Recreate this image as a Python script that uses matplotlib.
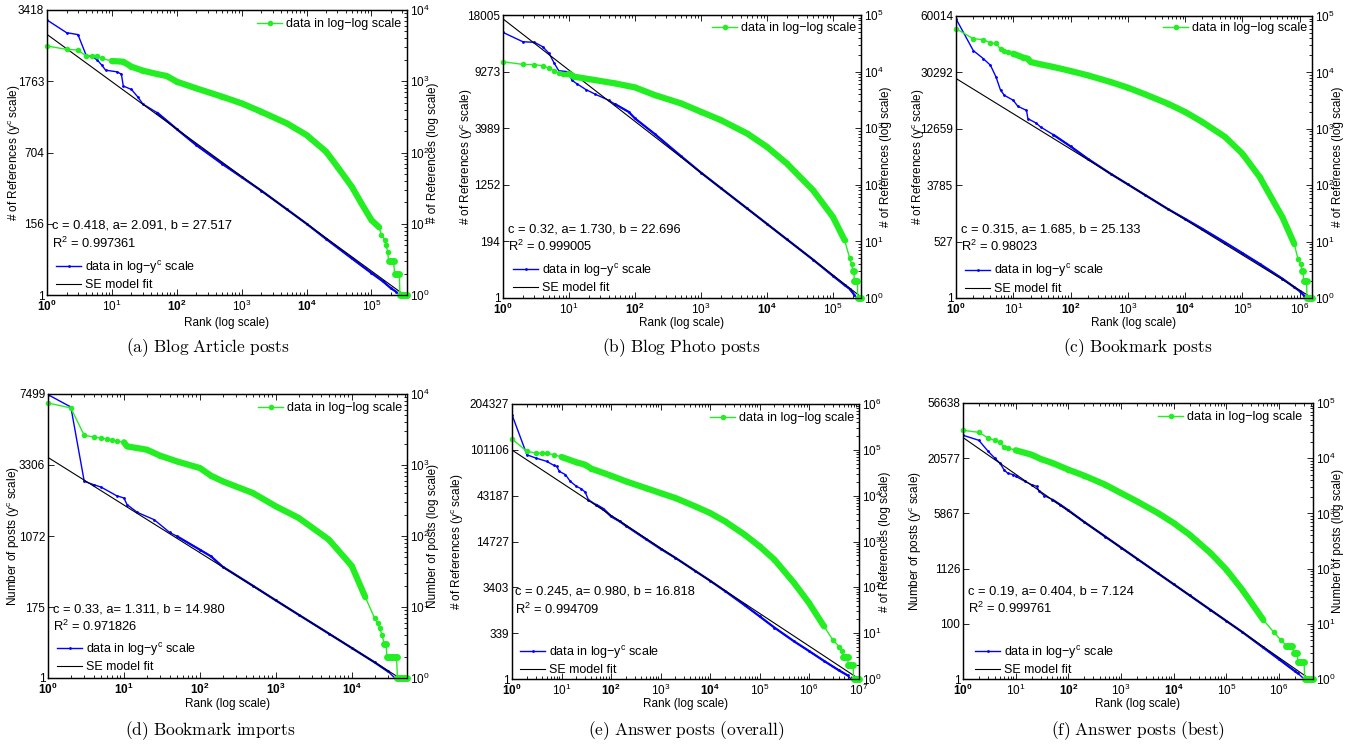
import numpy as np
import matplotlib
matplotlib.use('Agg')
import matplotlib.pyplot as plt
from matplotlib.ticker import LogLocator, NullFormatter, NullLocator

plt.rcParams['font.family'] = ['Liberation Sans', 'DejaVu Sans']
plt.rcParams['mathtext.fontset'] = 'custom'
plt.rcParams['mathtext.rm'] = 'Liberation Sans'
plt.rcParams['mathtext.it'] = 'Liberation Sans:italic'
plt.rcParams['mathtext.bf'] = 'Liberation Sans:bold'
plt.rcParams['mathtext.sf'] = 'Liberation Sans'
plt.rcParams['axes.unicode_minus'] = True

# ---------------- green series: data in log-log scale (rank, count) ----------------
rank_a = [1, 2, 3, 4, 5, 6, 7, 10, 15, 20, 30, 50, 70, 100, 200, 500, 1000, 2000, 5000,
          1e4, 2e4, 3e4, 5e4, 7e4, 1e5, 1.3e5, 1.43e5, 1.6e5, 1.7e5, 1.78e5, 1.85e5, 2.2e5,
          2.28e5, 2.7e5, 2.75e5, 3.54e5]
count_a = [3126, 2805, 2746, 2262, 2285, 2250, 2090, 1925, 1880, 1603, 1409, 1262, 1186, 986,
           795, 608, 490, 374, 256, 176, 103, 63, 33, 19.4, 11.3, 9, 7, 6, 5, 4, 3, 3,
           2, 2, 1, 1]

rank_b = [1, 2, 3, 4, 5, 6, 7, 8, 9, 10, 12, 20, 50, 100, 200, 500, 1000, 2000, 5000,
          1e4, 2e4, 5e4, 1e5, 1.5e5, 1.8e5, 1.92e5, 2.0e5, 2.08e5, 2.1e5, 2.35e5, 2.37e5, 2.66e5]
count_b = [14960, 13400, 13300, 12700, 11400, 10360, 9290, 9250, 9200, 9150, 8120, 7380,
           6190, 5260, 3845, 2740, 1950, 1390, 807, 468, 238, 80, 27, 10.5, 5, 4, 3, 3,
           2, 2, 1, 1]

rank_c = [1, 2, 3, 4, 5, 6, 7, 8, 10, 15, 18, 20, 30, 50, 100, 200, 500, 1000, 2000, 5000,
          1e4, 2e4, 5e4, 1e5, 2e5, 5e5, 8e5, 9.3e5, 1.05e6, 1.1e6, 1.15e6, 1.17e6, 1.32e6,
          1.34e6, 1.64e6]
count_c = [59600, 39600, 38100, 33200, 33000, 25600, 23600, 23000, 21500, 18300, 17500,
           15300, 13900, 12500, 10600, 8870, 6760, 5370, 4090, 2790, 1990, 1320, 716, 362,
           140, 27, 9.2, 5, 4, 3, 3, 2, 2, 1, 1]

rank_d = [1, 2, 3, 4, 5, 6, 7, 8, 10, 11, 20, 30, 50, 100, 140, 200, 500, 1000, 2000, 5000,
          1e4, 1.5e4, 2.0e4, 2.2e4, 2.35e4, 2.5e4, 2.7e4, 2.85e4, 2.9e4, 3.9e4, 4.0e4, 5.35e4]
count_d = [7470, 6350, 2620, 2480, 2400, 2330, 2225, 2180, 2085, 1830, 1645, 1353, 1123,
           907, 708, 589, 403, 262, 180, 89, 38, 14, 7, 6, 5, 4, 3, 3, 2, 2, 1, 1]

rank_e = [1, 2, 3, 4, 5, 7, 10, 20, 30, 40, 50, 100, 200, 500, 1000, 2000, 5000, 1e4, 2e4,
          5e4, 1e5, 2e5, 5e5, 1e6, 2e6, 3e6, 4.1e6, 4.7e6, 4.9e6, 6.0e6, 6.2e6, 7.8e6,
          7.9e6, 1.0e7]
count_e = [172000, 92700, 85300, 85300, 84000, 78500, 69800, 53400, 47400, 38800, 35700,
           27300, 20500, 14700, 11400, 8890, 5850, 4190, 2750, 1410, 785, 402, 124, 45.5,
           14.1, 7.2, 5, 4, 3, 3, 2, 2, 1, 1]

rank_f = [1, 2, 3, 4, 5, 6, 7, 10, 20, 30, 50, 100, 200, 500, 1000, 2000, 5000, 1e4, 2e4,
          5e4, 1e5, 2e5, 5e5, 8e5, 1.1e6, 1.38e6, 1.8e6, 1.9e6, 2.2e6, 2.3e6, 3.0e6, 3.07e6,
          4.42e6]
count_f = [32000, 29400, 23200, 21100, 19400, 15960, 15500, 13900, 11600, 9680, 8190, 6200,
           4830, 3320, 2340, 1655, 1017, 670, 412, 192, 96, 41.5, 11.9, 7, 5, 4, 4, 3, 3,
           2, 2, 1, 1]

# ---------------- blue series: data in log-y^c scale (rank, count on left axis) ----------------
blue_rank_a = [1, 2, 3, 4, 5, 6, 7, 8, 12, 14, 15, 20, 25, 30, 50, 100, 200, 500, 1e3, 2e3,
               5e3, 1e4, 2e4, 5e4, 1e5, 1.5e5, 2e5, 2.4e5, 2.75e5, 3.54e5]
blue_count_a = [3147, 2823, 2775, 2298, 2260, 2188, 2081, 1980, 1946, 1901, 1674, 1613, 1484,
                1365, 1226, 991, 789, 586, 462, 354, 230, 156, 95, 41, 16.6, 8.1, 3.5, 2, 1, 1]

blue_rank_b = [1, 2, 3, 4, 5, 6, 7, 10, 11, 13, 18, 25, 40, 50, 80, 100, 200, 500, 1e3, 2e3,
               5e3, 1e4, 2e4, 5e4, 1e5, 1.5e5, 1.8e5, 2.1e5, 2.3e5, 2.66e5]
blue_count_b = [14900, 13390, 13300, 12630, 11650, 10300, 9380, 9250, 8280, 7905, 7270, 6800,
                6220, 5870, 5215, 4694, 3600, 2370, 1669, 1153, 654, 392, 213, 74.8, 22.8,
                8.75, 5.25, 2, 1, 1]

blue_rank_c = [1, 2, 3, 4, 5, 6, 7, 10, 12, 17, 18, 25, 30, 50, 100, 200, 500, 1e3, 2e3, 5e3,
               1e4, 2e4, 5e4, 1e5, 2e5, 5e5, 8e5, 1e6, 1.2e6, 1.25e6, 1.64e6]
blue_count_c = [58200, 40200, 36300, 33300, 28440, 23550, 21860, 20270, 18460, 17300, 15100,
                14000, 13070, 11370, 9100, 7050, 5030, 3870, 2900, 1897, 1357, 926, 504, 285,
                141, 37, 12.2, 6, 2, 1, 1]

blue_rank_d = [1, 2, 3, 4, 5, 8, 10, 11, 15, 25, 40, 50, 100, 140, 200, 500, 1e3, 2e3, 5e3,
               1e4, 2e4, 3e4, 3.7e4, 5.35e4]
blue_count_d = [7450, 6555, 2642, 2517, 2430, 2136, 2062, 1858, 1636, 1445, 1148, 1066, 814,
                706, 556, 340, 219, 132, 57.8, 25.3, 8.1, 2.9, 1, 1]

blue_rank_e = [1, 2, 3, 5, 7, 8, 9, 12, 15, 20, 25, 30, 35, 50, 70, 100, 150, 200, 500, 1e3,
               2e3, 5e3, 1e4, 2e4, 5e4, 1e5, 2e5, 5e5, 1e6, 2e6, 4e6, 6e6, 7e6, 1.02e7]
blue_count_e = [175000, 93000, 88000, 83000, 77300, 75900, 69400, 65200, 57500, 52100, 49700,
                46500, 39700, 35700, 32500, 27560, 24470, 22040, 15790, 12070, 9250, 6130,
                4360, 2950, 1605, 925, 485, 186, 80.5, 27.4, 6.8, 2.5, 1, 1]

blue_rank_f = [1, 2, 3, 4, 5, 6, 7, 9, 10, 15, 20, 25, 28, 35, 50, 70, 100, 200, 500, 1e3,
               2e3, 5e3, 1e4, 2e4, 5e4, 1e5, 2e5, 5e5, 1e6, 2e6, 2.3e6, 3.0e6, 4.42e6]
blue_count_f = [32100, 29200, 23600, 20650, 18640, 16240, 15110, 14590, 14070, 12600, 11700,
                11260, 10050, 9080, 8250, 7300, 6340, 4690, 3125, 2247, 1582, 955, 630, 401,
                206, 117, 62.4, 22, 8.45, 2.6, 2, 1, 1]

# SE model parameters (as printed in each panel)
c_vals = [0.418, 0.32, 0.315, 0.33, 0.245, 0.19]
a_vals = [2.091, 1.730, 1.685, 1.311, 0.980, 0.404]
b_vals = [27.517, 22.696, 25.133, 14.980, 16.818, 7.124]
c_text = ['0.418', '0.32', '0.315', '0.33', '0.245', '0.19']
a_text = ['2.091', '1.730', '1.685', '1.311', '0.980', '0.404']
b_text = ['27.517', '22.696', '25.133', '14.980', '16.818', '7.124']
r2_text = ['0.997361', '0.999005', '0.98023', '0.971826', '0.994709', '0.999761']

# tick labels
left_ticks = [[1, 156, 704, 1763, 3418],
              [1, 194, 1252, 3989, 9273, 18005],
              [1, 527, 3785, 12659, 30292, 60014],
              [1, 175, 1072, 3306, 7499],
              [1, 339, 3403, 14727, 43187, 101106, 204327],
              [1, 100, 1126, 5867, 20577, 56638]]
right_decades = [4, 5, 5, 4, 6, 5]
x_max = [3.54e5, 2.66e5, 1.64e6, 5.35e4, 1.02e7, 4.42e6]
bold_exps = [[0, 2, 4], [0, 2, 4], [0, 2, 4], [0, 1, 2, 3, 4], [0, 2, 4], [0, 2, 4]]

ylab_left = ['# of References (y$^{\\mathrm{c}}$ scale)'] * 3 + \
            ['Number of posts (y$^{\\mathrm{c}}$ scale)', '# of References (y$^{\\mathrm{c}}$ scale)',
             'Number of posts (y$^{\\mathrm{c}}$ scale)']
ylab_right = ['# of References (log scale)'] * 3 + \
             ['Number of posts (log scale)', '# of References (log scale)', 'Number of posts (log scale)']
captions = ['(a) Blog Article posts', '(b) Blog Photo posts', '(c) Bookmark posts',
            '(d) Bookmark imports', '(e) Answer posts (overall)', '(f) Answer posts (best)']

ranks = [rank_a, rank_b, rank_c, rank_d, rank_e, rank_f]
counts = [count_a, count_b, count_c, count_d, count_e, count_f]
blue_ranks = [blue_rank_a, blue_rank_b, blue_rank_c, blue_rank_d, blue_rank_e, blue_rank_f]
blue_counts = [blue_count_a, blue_count_b, blue_count_c, blue_count_d, blue_count_e, blue_count_f]

# ---------------- layout (pixels) ----------------
W, H = 1364, 753
boxes = [(47, 10, 407, 295), (503, 15, 861, 298), (956, 16, 1312, 298),
         (48, 394, 407, 678), (512, 404, 859, 679), (963, 403, 1313, 679)]
annot_pos = [(52, 226), (508, 229), (961, 229), (53, 609), (515, 592), (968, 591)]
green_leg = [(401, 24), (856, 28), (1307, 28), (402, 408), (854, 418), (1302, 417)]
blue_leg = [(56, 275), (513, 278), (965, 278.5), (57, 657), (520, 660), (975, 660)]
ylab_lx = [15, 467, 919, 14, 458, 916]
ylab_rx = [433, 886, 1338, 433, 885, 1338]
xlab_y = [323, 323, 323, 704, 704, 704]
cap_pos = [(208, 348), (681, 348), (1138, 348), (210, 731), (686, 731), (1138, 731)]

GREEN = '#22ee22'
fig = plt.figure(figsize=(W / 100, H / 100), dpi=100)


def fx(px):
    return px / W


def fy(py):
    return 1 - py / H


def power_scale(c):
    def fwd(y):
        y = np.asarray(y, float)
        return np.sign(y) * np.abs(y) ** c

    def inv(y):
        y = np.asarray(y, float)
        return np.sign(y) * np.abs(y) ** (1.0 / c)
    return fwd, inv


for i in range(6):
    l, t, r, bt = boxes[i]
    ax = fig.add_axes([fx(l), fy(bt), (r - l) / W, (bt - t) / H])
    ax2 = ax.twinx()
    c, a, b = c_vals[i], a_vals[i], b_vals[i]

    # left axis: y^c scale
    ax.set_xscale('log')
    ax.set_yscale('function', functions=power_scale(c))
    ax.set_xlim(1, x_max[i])
    lt = left_ticks[i]
    ax.set_ylim(1, lt[-1])

    # blue data
    brk = np.asarray(blue_ranks[i], float)
    bct = np.asarray(blue_counts[i], float)
    hb, = ax.plot(brk, bct, color='#0000ff', lw=1.0, marker='.', ms=2,
                  label='data in log\u2212y$^{\\mathrm{c}}$ scale')
    dense = (brk >= 50) & (bct >= 2)
    ax.plot(brk[dense], bct[dense], color='#0000ff', lw=1.6, solid_capstyle='round')
    # SE model fit: y^c = b - a ln(x)
    x_end = min(x_max[i], np.exp((b - 1) / a))
    xf = np.array([1.0, x_end])
    yf = (b - a * np.log(xf)) ** (1.0 / c)
    hk, = ax.plot(xf, yf, color='black', lw=0.8, label='SE model fit')

    # green data in log-log
    rk = np.asarray(ranks[i], float)
    ct = np.asarray(counts[i], float)
    hg, = ax2.plot(rk, ct, color=GREEN, lw=1.0, marker='o', ms=4, mew=0,
                   label='data in log\u2212log scale', clip_on=False)
    body = (rk >= 10) & (ct >= 8)
    ax2.plot(rk[body], ct[body], color=GREEN, lw=4.5, solid_capstyle='round')
    for j in range(len(rk) - 1):
        if ct[j] == ct[j + 1] and ct[j] < 8:
            ax2.plot(rk[j:j + 2], ct[j:j + 2], color=GREEN, lw=5, solid_capstyle='round',
                     clip_on=False)

    # ticks
    ax.set_yticks(lt, [str(v) for v in lt])
    ax.yaxis.set_minor_locator(NullLocator())
    ax2.set_yscale('log')
    nd = right_decades[i]
    ax2.set_ylim(1, 10 ** nd)
    ax2.set_yticks([10.0 ** k for k in range(nd + 1)], ['$10^{%d}$' % k for k in range(nd + 1)])
    ax2.yaxis.set_minor_locator(LogLocator(base=10, subs=np.arange(2, 10), numticks=100))
    ax2.yaxis.set_minor_formatter(NullFormatter())
    kmax = int(np.floor(np.log10(x_max[i]) + 1e-9))
    xt = [10.0 ** k for k in range(kmax + 1)]
    xl = [('$\\mathbf{10^{%d}}$' % k) if k in bold_exps[i] else ('$10^{%d}$' % k)
          for k in range(kmax + 1)]
    ax.set_xticks(xt, xl)
    ax.xaxis.set_minor_locator(LogLocator(base=10, subs=np.arange(2, 10), numticks=100))
    ax.xaxis.set_minor_formatter(NullFormatter())

    ax.tick_params(axis='both', which='both', direction='in', labelsize=8.5, width=0.6)
    ax.tick_params(axis='x', which='both', top=True, pad=3)
    ax.tick_params(axis='y', which='both', right=False, pad=2)
    ax.tick_params(which='major', length=4)
    ax.tick_params(which='minor', length=2)
    ax2.tick_params(axis='y', which='both', direction='in', labelsize=8.5, width=0.6, pad=2)
    ax2.tick_params(which='major', length=4)
    ax2.tick_params(which='minor', length=2)
    for axx in (ax, ax2):
        for s in axx.spines.values():
            s.set_linewidth(0.9)

    # legends
    gx, gy = green_leg[i]
    ax2.legend(handles=[hg], loc='center right', bbox_to_anchor=(fx(gx), fy(gy)),
               bbox_transform=fig.transFigure, frameon=False, fontsize=9, handlelength=2.0,
               handletextpad=0.3, borderpad=0, borderaxespad=0, numpoints=1)
    bx, by = blue_leg[i]
    ax.legend(handles=[hb, hk], loc='center left', bbox_to_anchor=(fx(bx), fy(by)),
              bbox_transform=fig.transFigure, frameon=False, fontsize=9, handlelength=2.0,
              handletextpad=0.3, borderpad=0, borderaxespad=0, labelspacing=0.3, numpoints=1)

    # annotations
    axp, ayp = annot_pos[i]
    fig.text(fx(axp), fy(ayp), 'c = %s, a= %s, b = %s' % (c_text[i], a_text[i], b_text[i]),
             fontsize=9.3, ha='left', va='center')
    fig.text(fx(axp), fy(ayp + 17), 'R$^{2}$ = %s' % r2_text[i], fontsize=9.3, ha='left',
             va='center')

    # axis labels
    cy = (t + bt) / 2
    fig.text(fx(ylab_lx[i]), fy(cy), ylab_left[i], rotation=90, fontsize=8.5,
             ha='center', va='center')
    fig.text(fx(ylab_rx[i]), fy(cy), ylab_right[i], rotation=90, fontsize=8.5,
             ha='center', va='center')
    fig.text(fx((l + r) / 2), fy(xlab_y[i]), 'Rank (log scale)', fontsize=8.5,
             ha='center', va='center')

    # caption
    cxp, cyp = cap_pos[i]
    cap = captions[i].replace(' ', '\\ ')
    fig.text(fx(cxp), fy(cyp), '$\\mathrm{%s}$' % cap, math_fontfamily='cm', fontsize=12.5,
             ha='center', va='center')

fig.savefig('out.png', dpi=100)
